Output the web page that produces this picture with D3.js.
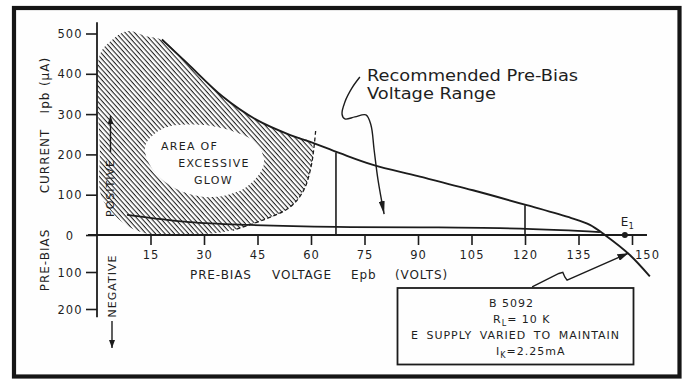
<!DOCTYPE html>
<html>
<head>
<meta charset="utf-8">
<script src="https://cdn.jsdelivr.net/npm/d3@7"></script>
<style>
  html, body { margin: 0; padding: 0; background: #ffffff; }
  svg { display: block; }
  text { font-family: "DejaVu Sans", sans-serif; fill: #1e1e1e; }
</style>
</head>
<body>
<svg id="chart" width="685" height="379"></svg>
<script>
// Pre-bias characteristic of tube B 5092 (RL = 10 K, IK held at 2.25 mA)

// Axis ticks
const voltTicks = [15, 30, 45, 60, 75, 90, 105, 120, 135, 150];
const currentTicks = [500, 400, 300, 200, 100, 0, -100, -200];

// Main characteristic: [Epb (volts), Ipb (µA)]
const mainCurve = [
  [18.2, 485], [25.2, 427], [35.3, 343], [44.9, 285], [54.2, 248], [59.8, 231],
  [68.1, 203], [77.4, 174], [90, 146], [105.4, 111], [120.5, 74], [133, 42],
  [138.2, 25], [142.4, 0], [149.4, -54], [155, -112]
];

// Low-current branch that runs into the main curve near the axis
const lowerCurve = [
  [8.4, 50], [26, 32], [43, 25], [67, 20], [90.6, 19], [113, 17], [130, 12], [141, 7]
];

// Limits of the recommended pre-bias range: [Epb, Ipb on the curve]
const rangeLimits = [[67, 205], [120, 74]];

// E1 operating point on the voltage axis
const e1Point = [148, 0];

// Area of excessive glow (outline and clear centre), [Epb, Ipb]
const glowOutline = [
  [0.8, 447], [4.2, 484], [8.7, 506], [13.5, 494], [18.2, 484],
  [25.2, 427], [35.3, 343], [44.9, 285], [54.2, 248], [59.8, 231],
  [60.6, 211], [60, 169], [58, 112], [54.1, 69], [46.5, 37], [38.1, 12],
  [28.9, 2], [14.9, 2], [8.7, 22], [4.2, 57], [1.1, 99], [0.8, 211]
];
const glowHole = [
  [13.5, 220], [18.5, 264], [27.5, 274], [37.5, 259], [44.8, 226], [46.8, 176],
  [42, 120], [32.5, 94], [23, 111], [16, 158]
];
const glowEdge = [
  [61.3, 258], [60.8, 215], [60, 169], [58, 112], [54.1, 69], [46.5, 37], [38.1, 12]
];

// Callout leaders, [Epb, Ipb]
const rangeLeader = [
  [73.7, 392], [71.5, 365], [69.5, 330], [68.7, 300], [69.5, 288], [72.3, 293],
  [75.4, 298], [76.8, 273], [77.7, 211], [78.8, 136], [80.5, 52]
];
const noteLeader = [
  [122.0, -140], [129.5, -104], [130.6, -101], [131.2, -114], [131.8, -122], [149.0, -49]
];

const svg = d3.select("#chart");
const ink = "#1c1c1c";

const x = d3.scaleLinear().domain([0, 150]).range([97, 632]);
const y = d3.scaleLinear().domain([-200, 0, 500]).range([309, 235, 33.5]);

// ---- defs: hatch and arrow heads
const defs = svg.append("defs");
const hatch = defs.append("pattern")
  .attr("id", "hatch")
  .attr("patternUnits", "userSpaceOnUse")
  .attr("width", 3.5).attr("height", 10)
  .attr("patternTransform", "rotate(-42)");
hatch.append("line")
  .attr("x1", 1.2).attr("y1", -1).attr("x2", 1.2).attr("y2", 11)
  .attr("stroke", ink).attr("stroke-width", 1.05);

function marker(id, len, half) {
  defs.append("marker")
    .attr("id", id)
    .attr("viewBox", `0 ${-half} ${len} ${2 * half}`)
    .attr("refX", len).attr("refY", 0)
    .attr("markerUnits", "userSpaceOnUse")
    .attr("markerWidth", len).attr("markerHeight", 2 * half)
    .attr("orient", "auto")
    .append("path")
    .attr("d", `M0,${-half}L${len},0L0,${half}Z`)
    .attr("fill", ink);
}
marker("headLong", 13, 3);
marker("headShort", 11, 3.5);
marker("headSmall", 8, 3);

// ---- frame
svg.append("rect")
  .attr("x", 14).attr("y", 8).attr("width", 665.5).attr("height", 368.5)
  .attr("fill", "#fefefe").attr("stroke", "#161616").attr("stroke-width", 4.2);

const line = d3.line().x(d => x(d[0])).y(d => y(d[1]));

// ---- glow area
const closed = d3.line().x(d => x(d[0])).y(d => y(d[1])).curve(d3.curveCatmullRomClosed);
svg.append("path")
  .attr("d", closed(glowOutline) + closed(glowHole))
  .attr("fill", "url(#hatch)")
  .attr("fill-rule", "evenodd");
svg.append("path")
  .attr("d", line.curve(d3.curveCatmullRom)(glowEdge))
  .attr("fill", "none").attr("stroke", ink)
  .attr("stroke-width", 1.3).attr("stroke-dasharray", "4,2.5");

// ---- axes
const yAxis = svg.append("g")
  .attr("transform", `translate(${x(0)},0)`)
  .call(d3.axisLeft(y).tickValues(currentTicks).tickSize(11).tickSizeOuter(0)
    .tickFormat(d => String(Math.abs(d))));
yAxis.select(".domain").remove();
yAxis.selectAll(".tick line").attr("stroke", ink).attr("stroke-width", 1.6);
yAxis.selectAll(".tick text")
  .attr("x", -27).attr("dy", "0.36em")
  .attr("text-anchor", "middle")
  .style("font-family", "DejaVu Sans").style("font-size", "11.5px")
  .style("letter-spacing", "1px").attr("fill", "#1e1e1e");

svg.append("line")
  .attr("x1", x(0)).attr("x2", x(0))
  .attr("y1", y(528)).attr("y2", y(-222))
  .attr("stroke", ink).attr("stroke-width", 1.8);

const xAxis = svg.append("g")
  .attr("transform", `translate(0,${y(0)})`)
  .call(d3.axisBottom(x).tickValues(voltTicks).tickSize(10).tickSizeOuter(0));
xAxis.select(".domain").remove();
xAxis.selectAll(".tick line").attr("stroke", ink).attr("stroke-width", 1.6);
xAxis.selectAll(".tick text")
  .attr("y", 23.5).attr("dy", 0)
  .attr("dx", d => d === 150 ? 15 : 0)
  .style("font-family", "DejaVu Sans").style("font-size", "11.5px")
  .style("letter-spacing", "1px").attr("fill", "#1e1e1e");

svg.append("line")
  .attr("x1", x(0) - 9).attr("x2", x(154.2))
  .attr("y1", y(0)).attr("y2", y(0))
  .attr("stroke", ink).attr("stroke-width", 1.8);

// ---- curves
svg.append("path")
  .attr("d", line.curve(d3.curveCatmullRom)(lowerCurve))
  .attr("fill", "none").attr("stroke", ink).attr("stroke-width", 1.7);
svg.append("path")
  .attr("d", line.curve(d3.curveCatmullRom)(mainCurve))
  .attr("fill", "none").attr("stroke", ink).attr("stroke-width", 1.9);

svg.selectAll(".limit")
  .data(rangeLimits)
  .join("line")
  .attr("class", "limit")
  .attr("x1", d => x(d[0])).attr("x2", d => x(d[0]))
  .attr("y1", y(0)).attr("y2", d => y(d[1]))
  .attr("stroke", ink).attr("stroke-width", 1.6);

// E1 point
svg.append("circle")
  .attr("cx", x(e1Point[0])).attr("cy", y(e1Point[1])).attr("r", 3)
  .attr("fill", ink);
const e1 = svg.append("text")
  .attr("x", x(e1Point[0]) - 4).attr("y", y(e1Point[1]) - 9)
  .style("font-size", "12px");
e1.append("tspan").text("E");
e1.append("tspan").attr("dy", 3).style("font-size", "8.5px").text("1");

// ---- axis titles
const yTitle = [["PRE-BIAS", 260], ["CURRENT", 161], ["Ipb", 102.5], ["(µA)", 71.5]];
svg.selectAll(".ytitle")
  .data(yTitle)
  .join("text")
  .attr("class", "ytitle")
  .attr("transform", d => `translate(45,${d[1]}) rotate(-90)`)
  .attr("text-anchor", "middle").attr("dy", "0.36em")
  .style("font-size", "12px").style("letter-spacing", "1px")
  .text(d => d[0]);

const xTitle = [["PRE-BIAS", 190], ["VOLTAGE", 272], ["Epb", 351], ["(VOLTS)", 395]];
svg.selectAll(".xtitle")
  .data(xTitle)
  .join("text")
  .attr("class", "xtitle")
  .attr("x", d => d[1]).attr("y", 278.5)
  .style("font-size", "12px").style("letter-spacing", "0.9px")
  .text(d => d[0]);

// Positive / negative direction labels
svg.append("text")
  .attr("transform", "translate(110.5,188) rotate(-90)")
  .attr("text-anchor", "middle").attr("dy", "0.36em")
  .style("font-size", "11px").style("letter-spacing", "1px")
  .text("POSITIVE");
svg.append("line")
  .attr("x1", 110.5).attr("x2", 110.5).attr("y1", 152).attr("y2", 116)
  .attr("stroke", ink).attr("stroke-width", 1.4)
  .attr("marker-end", "url(#headSmall)");
svg.append("text")
  .attr("transform", "translate(112,286) rotate(-90)")
  .attr("text-anchor", "middle").attr("dy", "0.36em")
  .style("font-size", "11px").style("letter-spacing", "1px")
  .text("NEGATIVE");
svg.append("line")
  .attr("x1", 112).attr("x2", 112).attr("y1", 321).attr("y2", 348)
  .attr("stroke", ink).attr("stroke-width", 1.4)
  .attr("marker-end", "url(#headSmall)");

// Glow area caption
[["AREA OF", 189.5, 150], ["EXCESSIVE", 214, 167], ["GLOW", 213.5, 183.5]].forEach(t => {
  svg.append("text")
    .attr("x", t[1]).attr("y", t[2]).attr("text-anchor", "middle")
    .style("font-size", "11px").style("letter-spacing", "1.3px")
    .text(t[0]);
});

// Recommended range callout (slightly widened lettering)
[["Recommended Pre-Bias", 81], ["Voltage Range", 98.5]].forEach(t => {
  svg.append("text")
    .attr("transform", `translate(367,${t[1]}) scale(1.19,1)`)
    .style("font-size", "15px").text(t[0]);
});
svg.append("path")
  .attr("d", line.curve(d3.curveCatmullRom)(rangeLeader))
  .attr("fill", "none").attr("stroke", ink).attr("stroke-width", 1.4)
  .attr("marker-end", "url(#headLong)");

// Test conditions note
svg.append("rect")
  .attr("x", 397.5).attr("y", 288).attr("width", 236).attr("height", 76.5)
  .attr("fill", "#fefefe").attr("stroke", ink).attr("stroke-width", 1.8);
svg.append("path")
  .attr("d", line.curve(d3.curveLinear)(noteLeader))
  .attr("fill", "none").attr("stroke", ink).attr("stroke-width", 1.4)
  .attr("marker-end", "url(#headShort)");

const note = svg.append("g").style("font-size", "11px").style("letter-spacing", "1px");
note.append("text").attr("x", 489).attr("y", 307).text("B 5092");
const rl = note.append("text").attr("x", 493).attr("y", 323);
rl.append("tspan").text("R");
rl.append("tspan").attr("dy", 2.5).style("font-size", "8px").text("L");
rl.append("tspan").attr("dy", -2.5).text("= 10 K");
note.append("text").attr("x", 411).attr("y", 339)
  .style("word-spacing", "3px").text("E SUPPLY VARIED TO MAINTAIN");
const ik = note.append("text").attr("x", 496).attr("y", 355);
ik.append("tspan").text("I");
ik.append("tspan").attr("dy", 2.5).style("font-size", "8px").text("K");
ik.append("tspan").attr("dy", -2.5).text("=2.25mA");
</script>
</body>
</html>
